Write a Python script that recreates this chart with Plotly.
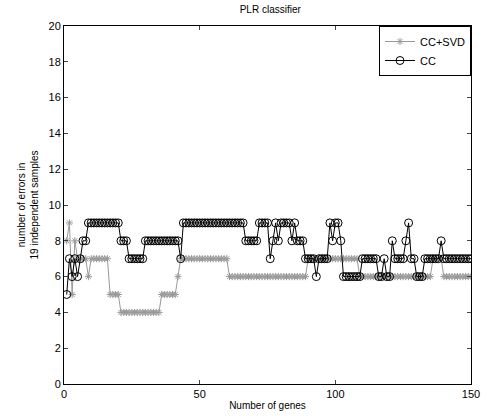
import plotly.graph_objects as go

genes = list(range(1, 151))

cc_svd = [8, 9, 5, 8, 7, 7, 7, 7, 6,
          7, 7, 7, 7, 7, 7, 7,
          5, 5, 5, 5,
          4, 4, 4, 4, 4, 4, 4, 4, 4, 4, 4, 4, 4, 4, 4,
          5, 5, 5, 5, 5, 5,
          6,
          7, 7, 7, 7, 7, 7, 7, 7, 7, 7, 7, 7, 7, 7, 7, 7, 7, 7,
          6, 6, 6, 6, 6, 6, 6, 6, 6, 6, 6, 6, 6, 6, 6, 6, 6, 6, 6, 6, 6, 6, 6, 6, 6, 6, 6, 6, 6,
          7, 7, 7, 7, 7, 7, 7, 7, 7, 7, 7, 7, 7, 7, 7, 7, 7, 7, 7,
          6, 6, 6, 6, 6, 6, 6, 6, 6, 6, 6, 6, 6, 6, 6, 6, 6, 6, 6, 6, 6, 6, 6, 6, 6, 6, 6,
          7, 7, 7, 7,
          6, 6, 6, 6, 6, 6, 6, 6, 6, 6, 6]

cc = [5, 7, 6, 7, 6, 7, 8, 8,
      9, 9, 9, 9, 9, 9, 9, 9, 9, 9, 9, 9,
      8, 8, 8,
      7, 7, 7, 7, 7, 7,
      8, 8, 8, 8, 8, 8, 8, 8, 8, 8, 8, 8, 8,
      7,
      9, 9, 9, 9, 9, 9, 9, 9, 9, 9, 9, 9, 9, 9, 9, 9, 9, 9, 9, 9, 9, 9, 9,
      8, 8, 8, 8, 8,
      9, 9, 9, 9,
      7, 8, 9, 8, 9, 9, 9, 9, 8, 9, 8, 8, 8,
      7, 7, 7, 7, 6, 7, 7, 7, 7,
      9, 8, 9, 9, 8,
      6, 6, 6, 6, 6, 6, 6,
      7, 7, 7, 7, 7, 7,
      6, 6, 7, 6, 6, 8,
      7, 7, 7, 7, 8, 9, 7, 7, 6, 6, 6, 7, 7, 7, 7, 7, 7, 8,
      7, 7, 7, 7, 7, 7, 7, 7, 7, 7, 7]

x_ticks = [0, 50, 100, 150]
y_ticks = [0, 2, 4, 6, 8, 10, 12, 14, 16, 18, 20]

fig = go.Figure()
fig.add_trace(go.Scatter(
    x=genes, y=cc_svd, name="CC+SVD", mode="lines+markers",
    line=dict(color="#999999", width=1),
    marker=dict(symbol="asterisk-open", size=6, color="#999999",
                line=dict(color="#999999", width=1)),
))
fig.add_trace(go.Scatter(
    x=genes, y=cc, name="CC", mode="lines+markers",
    line=dict(color="black", width=1),
    marker=dict(symbol="circle-open", size=8, color="black",
                line=dict(color="black", width=1)),
))

fig.update_layout(
    width=487, height=416,
    margin=dict(l=64, r=7, t=26, b=31),
    paper_bgcolor="white", plot_bgcolor="white",
    font=dict(family="Liberation Sans, Arial, sans-serif", size=10, color="black"),
    title=dict(text="PLR classifier", x=0.555, xanchor="center", y=0.985, yanchor="top",
               font=dict(size=10)),
    showlegend=True,
    legend=dict(x=1, xanchor="right", y=1, yanchor="top",
                bordercolor="black", borderwidth=1, bgcolor="white",
                font=dict(size=11), tracegroupgap=0),
    xaxis=dict(range=[0, 150], tickvals=x_ticks, ticks="inside", ticklen=4,
               showline=True, linecolor="black", linewidth=1, mirror="ticks",
               showgrid=False, zeroline=False, tickfont=dict(size=11),
               ticklabeloverflow="allow",
               title=dict(text="Number of genes", standoff=2, font=dict(size=10))),
    yaxis=dict(range=[0, 20], tickvals=y_ticks, ticks="inside", ticklen=4,
               showline=True, linecolor="black", linewidth=1, mirror="ticks",
               showgrid=False, zeroline=False, tickfont=dict(size=11),
               title=dict(text="number of errors in<br>19 independent samples",
                          standoff=8, font=dict(size=10))),
)

fig.write_html("out.html")
